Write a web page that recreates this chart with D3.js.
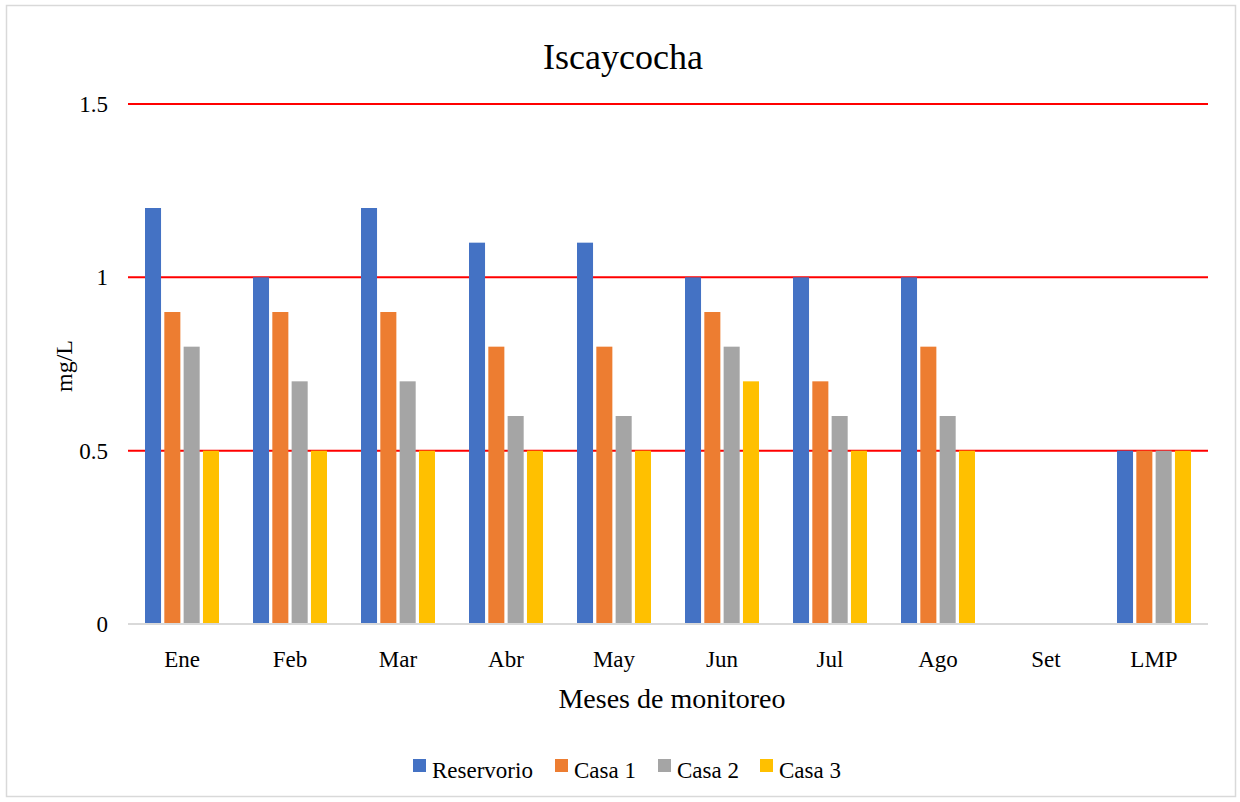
<!DOCTYPE html>
<html>
<head>
<meta charset="utf-8">
<script src="https://cdn.jsdelivr.net/npm/d3@7"></script>
<style>
  body { margin: 0; background: #fff; }
  text { font-family: "Liberation Serif", "Times New Roman", serif; fill: #000; }
</style>
</head>
<body>
<div id="chart"></div>
<script>
// ------- Data -------
const months = ["Ene", "Feb", "Mar", "Abr", "May", "Jun", "Jul", "Ago", "Set", "LMP"];
const seriesNames = ["Reservorio", "Casa 1", "Casa 2", "Casa 3"];
const reservorio = [1.2, 1.0, 1.2, 1.1, 1.1, 1.0, 1.0, 1.0, null, 0.5];
const casa1 = [0.9, 0.9, 0.9, 0.8, 0.8, 0.9, 0.7, 0.8, null, 0.5];
const casa2 = [0.8, 0.7, 0.7, 0.6, 0.6, 0.8, 0.6, 0.6, null, 0.5];
const casa3 = [0.5, 0.5, 0.5, 0.5, 0.5, 0.7, 0.5, 0.5, null, 0.5];
const yTicks = [0, 0.5, 1, 1.5];

const colors = ["#4472C4", "#ED7D31", "#A5A5A5", "#FFC000"];
const allSeries = [reservorio, casa1, casa2, casa3];

// ------- SVG setup -------
const width = 1240;
const height = 802;

const svg = d3.select("#chart")
  .append("svg")
  .attr("width", width)
  .attr("height", height);

// outer chart border
svg.append("rect")
  .attr("x", 6.5).attr("y", 5.5)
  .attr("width", 1229).attr("height", 791)
  .attr("fill", "#fff")
  .attr("stroke", "#d9d9d9")
  .attr("stroke-width", 1.5);

const x = d3.scaleBand().domain(months).range([128, 1208]).padding(0);
const x1 = d3.scaleBand()
  .domain(seriesNames)
  .range([17, x.bandwidth() - 17])
  .paddingInner(0.17);

const y = d3.scaleLinear().domain([0, 1.5]).range([624, 104]);

// gridlines (red)
svg.append("g")
  .selectAll("line")
  .data(yTicks.filter(d => d > 0))
  .join("line")
  .attr("x1", 128).attr("x2", 1208)
  .attr("y1", d => y(d)).attr("y2", d => y(d))
  .attr("stroke", "#ff0000")
  .attr("stroke-width", 2);

// bars
const rows = [];
months.forEach((m, i) => {
  seriesNames.forEach((s, j) => {
    const v = allSeries[j][i];
    if (v != null) rows.push({ month: m, series: s, value: v, color: colors[j] });
  });
});

svg.append("g")
  .selectAll("rect")
  .data(rows)
  .join("rect")
  .attr("x", d => x(d.month) + x1(d.series))
  .attr("y", d => y(d.value))
  .attr("width", x1.bandwidth())
  .attr("height", d => y(0) - y(d.value))
  .attr("fill", d => d.color);

// baseline
svg.append("line")
  .attr("x1", 128).attr("x2", 1208)
  .attr("y1", y(0)).attr("y2", y(0))
  .attr("stroke", "#d9d9d9")
  .attr("stroke-width", 2);

// y axis labels
const yAxis = d3.axisLeft(y).tickValues(yTicks).tickFormat(d3.format("")).tickSize(0).tickPadding(20);
const yAxisG = svg.append("g").attr("transform", "translate(128,0)").call(yAxis);
yAxisG.select(".domain").remove();
yAxisG.selectAll("text").style("font-size", "23px").style("font-family", "Liberation Serif");

// x axis labels
const xAxis = d3.axisBottom(x).tickSize(0).tickPadding(27);
const xAxisG = svg.append("g").attr("transform", `translate(0,${y(0)})`).call(xAxis);
xAxisG.select(".domain").remove();
xAxisG.selectAll("text").style("font-size", "23px").style("font-family", "Liberation Serif");

// title
svg.append("text")
  .attr("x", 623).attr("y", 69)
  .attr("text-anchor", "middle")
  .style("font-size", "36px")
  .text("Iscaycocha");

// axis titles
svg.append("text")
  .attr("x", 672).attr("y", 708)
  .attr("text-anchor", "middle")
  .style("font-size", "28px")
  .text("Meses de monitoreo");

svg.append("text")
  .attr("transform", "translate(72,366) rotate(-90)")
  .attr("text-anchor", "middle")
  .style("font-size", "24px")
  .text("mg/L");

// legend
const legendX = [413, 555, 658, 760];
const legend = svg.append("g")
  .selectAll("g")
  .data(seriesNames)
  .join("g")
  .attr("transform", (d, i) => `translate(${legendX[i]},759)`);

legend.append("rect")
  .attr("width", 13).attr("height", 13)
  .attr("fill", (d, i) => colors[i]);

legend.append("text")
  .attr("x", 19).attr("y", 19)
  .style("font-size", "23px")
  .text(d => d);
</script>
</body>
</html>
